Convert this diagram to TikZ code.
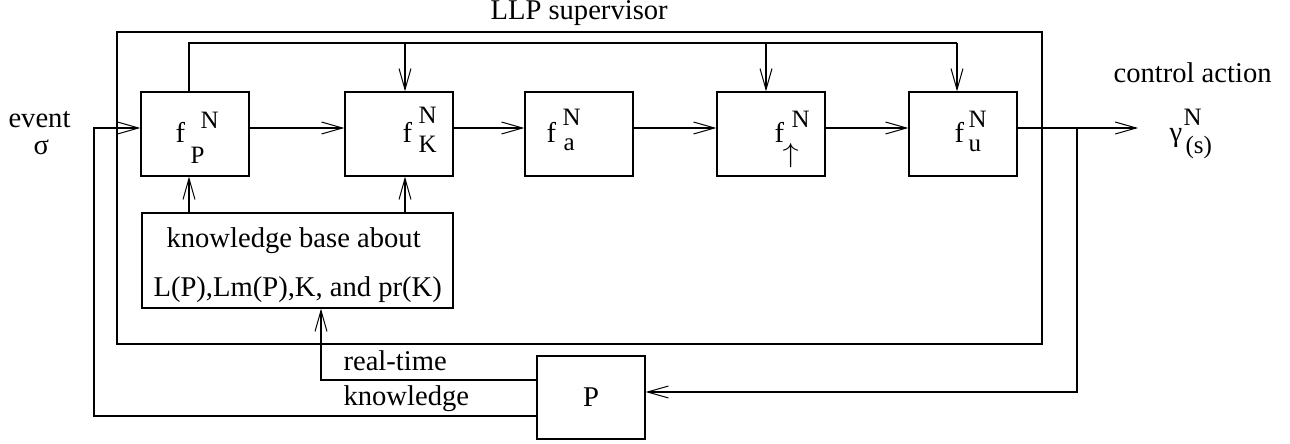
\documentclass[tikz,border=0pt]{standalone}
\usepackage{fontspec}
\setmainfont{Liberation Serif}
\usetikzlibrary{arrows.meta}

\begin{document}
\begin{tikzpicture}
[x=1pt,y=-1pt,line width=1.1pt,%
  box/.style={draw,line width=1.3pt,inner sep=0pt,minimum width=108pt,minimum height=84pt},%
  txt/.style={anchor=base west,inner sep=0pt,font=\fontsize{28.6}{30}\selectfont},%
  scr/.style={anchor=base west,inner sep=0pt,font=\fontsize{25}{26}\selectfont},%
  arr/.style={-{Straight Barb[length=21pt,width=12pt,line width=1pt]}}]
\useasboundingbox (0,0) rectangle (1290,444);
%% supervisor frame
\node[box,minimum width=925pt,minimum height=312pt] (llp) at (579.5,188) {};
\node[txt] (llpl) at (490,20) {LLP supervisor};
%% function blocks
\node[box] (bP) at (195,134) {};
\node[box] (bK) at (399,134) {};
\node[box] (ba) at (579,134) {};
\node[box] (bup) at (771,134) {};
\node[box] (bu) at (963,134) {};
\foreach \n/\fx/\nx/\ny/\sx/\sy/\s in {P/175/200/128/190/163/P,K/402/418/123/418/152/K,%
  a/546/562/125/563/150/a,u/954/968/127/968/151/u}{
  \node[txt] (l\n) at (\fx,142) {f};
  \node[scr] (l\n n) at (\nx,\ny) {N};
  \node[scr] (l\n s) at (\sx,\sy) {\s};
}
\node[txt] (lup) at (774,142) {f};
\node[scr] (lupn) at (791,127) {N};
\node[scr] (lups) at (782,162) {\scalebox{1.3}[1.1]{$\uparrow$}};
%% knowledge base and plant
\node[box,minimum width=311pt,minimum height=95pt] (kb) at (297.5,260.5) {};
\node[txt] (kb1) at (166,247) {knowledge base about};
\node[txt] (kb2) at (153,296) {L(P),Lm(P),K, and pr(K)};
\node[box,minimum height=83pt,font=\fontsize{28.6}{30}\selectfont] (pl) at (591,397.5) {P};
%% outer texts
\node[txt] (ev) at (8,127) {event};
\node[txt] (sig) at (33,154) {σ};
\node[txt] (ca) at (1113,82) {control action};
\node[txt] (gam) at (1169,141) {γ};
\node[scr] (gamn) at (1183,125) {N};
\node[scr] (gams) at (1185,153) {(s)};
\node[txt] (rtl) at (343,370) {real-time};
\node[txt] (knl) at (343,405) {knowledge};
%% connectors
\coordinate (in) at (94,128);
\coordinate (out) at (1138,128);
\coordinate (tap) at (1077,128);
\coordinate (kn) at (94,416);
\coordinate (rt) at (321,380);
\coordinate (top) at (189,43);
\draw[arr] (pl.west |- kn) -- (kn) -- (in) -- (bP.west |- in);
\draw[arr] (pl.west |- rt) -- (rt) -- (rt |- kb.south);
\foreach \a/\b in {bP/bK,bK/ba,ba/bup,bup/bu}
  \draw[arr] (\a.east |- in) -- (\b.west |- in);
\draw[arr] (bu.east |- in) -- (out);
\draw[arr] (tap) |- ([yshift=5.5pt]pl.east);
\draw (top |- bP.north) -- (top) -- ([xshift=-6pt]bu.north |- top);
\draw[arr] ([xshift=6pt]bK.north |- top) -- ([xshift=6pt]bK.north);
\draw[arr] ([xshift=-5pt]bup.north |- top) -- ([xshift=-5pt]bup.north);
\draw[arr] ([xshift=-6pt]bu.north |- top) -- ([xshift=-6pt]bu.north);
\draw[arr] (top |- kb.north) -- (top |- bP.south);
\draw[arr] ([xshift=6pt]bK.south |- kb.north) -- ([xshift=6pt]bK.south);
\end{tikzpicture}
\end{document}
